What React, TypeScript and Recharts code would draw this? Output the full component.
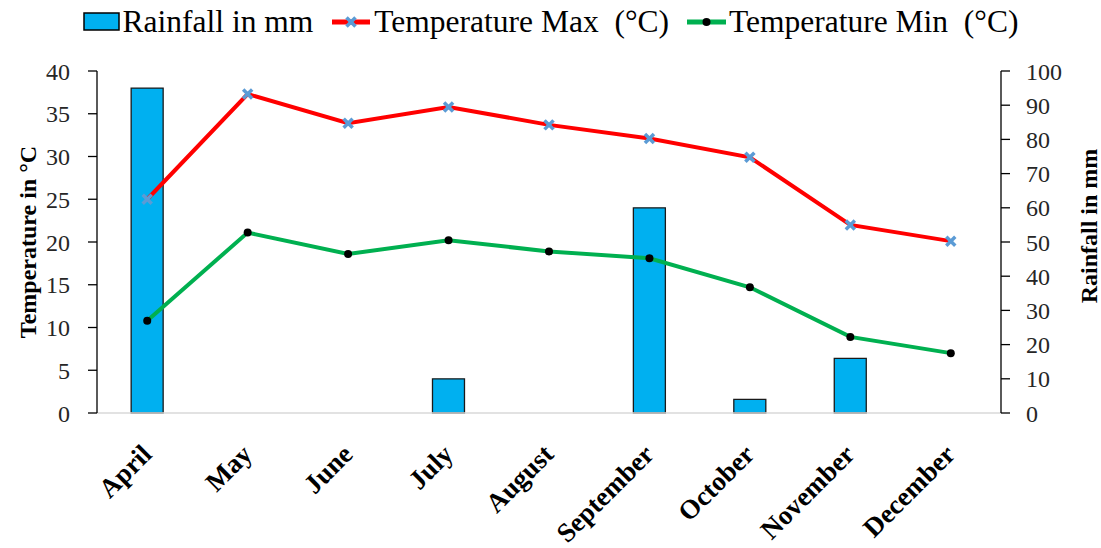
import React from "react";
import { ComposedChart, Bar, Line, XAxis, YAxis, Legend } from "recharts";

const months = ["April", "May", "June", "July", "August", "September", "October", "November", "December"];
const rainfall = [95, 0, 0, 10, 0, 60, 4, 16, 0];
const tempMax = [25, 37.3, 33.9, 35.8, 33.7, 32.1, 29.9, 22.0, 20.1];
const tempMin = [10.8, 21.1, 18.6, 20.2, 18.9, 18.1, 14.7, 8.9, 7.0];
const leftTicks = [0, 5, 10, 15, 20, 25, 30, 35, 40];
const rightTicks = [0, 10, 20, 30, 40, 50, 60, 70, 80, 90, 100];

const data = months.map((m, i) => ({
  month: m,
  rain: rainfall[i],
  max: tempMax[i],
  min: tempMin[i],
}));

const FONT = "'Liberation Serif', 'Times New Roman', serif";
const BLUE = "#00B0F0";
const RED = "#FF0000";
const GREEN = "#00B050";
const MARK = "#5B9BD5";
const TICK = "#262626";

const CrossDot = (props: any) => {
  const { cx, cy } = props;
  if (cx == null || cy == null) return null;
  const s = 4.5;
  return (
    <g>
      <line x1={cx - s} y1={cy - s} x2={cx + s} y2={cy + s} stroke={MARK} strokeWidth={3.5} />
      <line x1={cx - s} y1={cy + s} x2={cx + s} y2={cy - s} stroke={MARK} strokeWidth={3.5} />
    </g>
  );
};

const BlackDot = (props: any) => {
  const { cx, cy } = props;
  if (cx == null || cy == null) return null;
  return <circle cx={cx} cy={cy} r={4} fill="#000" stroke="none" />;
};

const MonthTick = (props: any) => {
  const { x, y, payload } = props;
  return (
    <g transform={`translate(${x + 6},${y + 35})`}>
      <text
        x={0}
        y={0}
        textAnchor="end"
        transform="rotate(-45)"
        fontFamily={FONT}
        fontWeight="bold"
        fontSize={27}
        fill="#000"
      >
        {payload.value}
      </text>
    </g>
  );
};

const LeftLabel = (props: any) => {
  const { viewBox } = props;
  const cx = viewBox.x + 28;
  const cy = viewBox.y + viewBox.height / 2;
  return (
    <text
      x={cx}
      y={cy}
      transform={`rotate(-90, ${cx}, ${cy})`}
      textAnchor="middle"
      dominantBaseline="central"
      fontFamily={FONT}
      fontWeight="bold"
      fontSize={24}
      fill="#000"
    >
      Temperature in °C
    </text>
  );
};

const RightLabel = (props: any) => {
  const { viewBox } = props;
  const cx = viewBox.x + 88;
  const cy = viewBox.y + viewBox.height / 2 - 16;
  return (
    <text
      x={cx}
      y={cy}
      transform={`rotate(-90, ${cx}, ${cy})`}
      textAnchor="middle"
      dominantBaseline="central"
      fontFamily={FONT}
      fontWeight="bold"
      fontSize={24}
      fill="#000"
    >
      Rainfall in mm
    </text>
  );
};

const LegendContent = () => {
  const item = { display: "flex", alignItems: "center" } as const;
  const txt = { fontFamily: FONT, fontSize: 31.5, color: "#000", lineHeight: "36px", whiteSpace: "pre" } as const;
  return (
    <div style={{ display: "flex", justifyContent: "center", alignItems: "center", width: 1101, height: 36 }}>
      <div style={{ ...item, marginRight: 19 }}>
        <svg width={40} height={22}>
          <rect x={1} y={2} width={35} height={17} fill={BLUE} stroke="#000" strokeWidth={1.5} />
        </svg>
        <span style={txt}>Rainfall in mm</span>
      </div>
      <div style={{ ...item, marginRight: 18 }}>
        <svg width={42} height={22}>
          <line x1={0} y1={11} x2={38} y2={11} stroke={RED} strokeWidth={5} />
          <CrossDot cx={19} cy={11} />
        </svg>
        <span style={txt}>{"Temperature Max  (°C)"}</span>
      </div>
      <div style={item}>
        <svg width={42} height={22}>
          <line x1={0} y1={11} x2={39} y2={11} stroke={GREEN} strokeWidth={5} />
          <BlackDot cx={19.5} cy={11} />
        </svg>
        <span style={txt}>{"Temperature Min  (°C)"}</span>
      </div>
    </div>
  );
};

export default function App() {
  return (
    <div style={{ position: "absolute", left: 0, top: 0, width: 1101, height: 548, background: "#fff" }}>
      <ComposedChart
        width={1101}
        height={548}
        data={data}
        margin={{ top: 35, right: 0, bottom: 0, left: 0 }}
        barCategoryGap="34%"
      >
        <Legend
          verticalAlign="top"
          content={<LegendContent />}
          wrapperStyle={{ position: "absolute", top: 4, left: 0, width: 1101, height: 36 }}
        />
        <XAxis
          dataKey="month"
          xAxisId="x"
          height={135}
          tick={<MonthTick />}
          tickLine={false}
          axisLine={{ stroke: "#D9D9D9", strokeWidth: 1.5 }}
          interval={0}
        />
        <YAxis
          yAxisId="left"
          orientation="left"
          width={97}
          domain={[0, 40]}
          ticks={leftTicks}
          interval={0}
          tickSize={9}
          tickMargin={18}
          axisLine={{ stroke: "#000", strokeWidth: 1.3 }}
          tickLine={{ stroke: "#000", strokeWidth: 1.3 }}
          tick={{ fontFamily: FONT, fontSize: 24, fill: TICK }}
          label={<LeftLabel />}
        />
        <YAxis
          yAxisId="right"
          orientation="right"
          width={100}
          domain={[0, 100]}
          ticks={rightTicks}
          interval={0}
          tickSize={9}
          tickMargin={16}
          axisLine={{ stroke: "#000", strokeWidth: 1.3 }}
          tickLine={{ stroke: "#000", strokeWidth: 1.3 }}
          tick={{ fontFamily: FONT, fontSize: 24, fill: TICK, textAnchor: "start" }}
          label={<RightLabel />}
        />
        <Bar
          dataKey="rain"
          xAxisId="x"
          yAxisId="right"
          fill={BLUE}
          stroke="#1a1a1a"
          strokeWidth={1.3}
          isAnimationActive={false}
        />
        <Line
          dataKey="max"
          xAxisId="x"
          yAxisId="left"
          stroke={RED}
          strokeWidth={4}
          dot={<CrossDot />}
          activeDot={false}
          isAnimationActive={false}
        />
        <Line
          dataKey="min"
          xAxisId="x"
          yAxisId="left"
          stroke={GREEN}
          strokeWidth={4}
          dot={<BlackDot />}
          activeDot={false}
          isAnimationActive={false}
        />
      </ComposedChart>
    </div>
  );
}
